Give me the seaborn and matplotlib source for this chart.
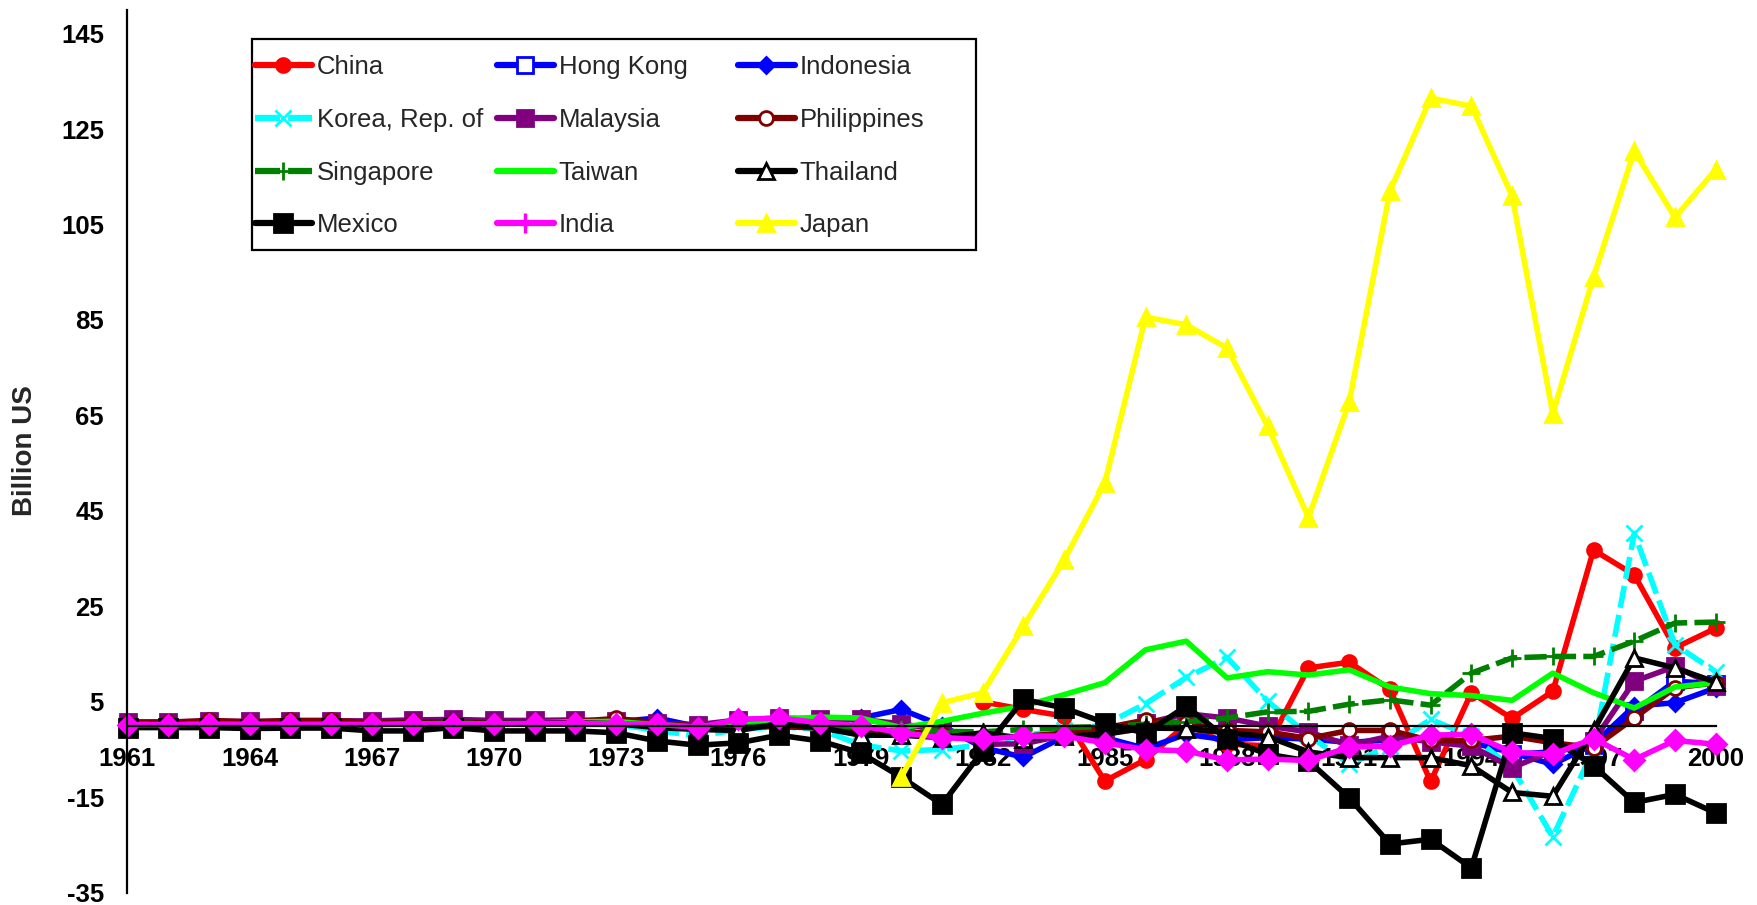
import numpy as np
import matplotlib
matplotlib.use("Agg")
import matplotlib.pyplot as plt
from matplotlib.lines import Line2D
from matplotlib.patches import Rectangle
import seaborn as sns

nan = np.nan
years = list(range(1961, 2001))
tick_years = [y if (y - 1961) % 3 == 0 else None for y in years]

china = [nan] * 21 + [5.0, 3.4, 2.0, -11.6, -7.1, 0.3, -3.9, -4.2, 12.1, 13.3,
                      7.6, -11.7, 6.9, 1.5, 7.2, 36.8, 31.6, 16.3, 20.4]
hong_kong = [nan] * 34 + [-6.0, -5.5, -4.0, 3.0, 9.3, 8.8]
indonesia = [-0.5, 0.1, 0.2, 0.2, 0.2, 0.3, 0.3, 0.4, 0.5, 0.5, 0.6, 0.7, 0.8, 1.6,
             -0.2, 0.3, 0.6, 0.8, 1.6, 3.4, 0.0, -4.6, -6.6, -2.3, -2.5, -4.8, -1.8,
             -3.0, -2.5, -2.8, -3.5, -3.0, -2.5, -3.5, -5.7, -8.1, -3.9, 4.1, 4.8, 7.9]
korea = [0.1, 0.1, 0.1, 0.1, 0.2, 0.2, 0.3, 0.3, 0.4, 0.4, 0.3, 0.4, 0.3, -1.0,
         -2.2, -0.8, -0.2, -0.8, -4.0, -5.3, -5.0, -4.0, -2.0, -1.0, 0.2, 4.6, 10.1,
         14.3, 5.1, -2.0, -8.0, -4.3, 1.3, -2.2, -8.8, -23.3, -5.0, 40.3, 17.0, 11.3]
malaysia = [0.8, 0.8, 0.9, 0.9, 0.9, 1.0, 1.0, 1.2, 1.3, 1.1, 1.1, 1.2, 0.9, 0.5,
            0.2, 1.2, 1.6, 1.4, 1.3, 0.4, -1.0, -3.9, -3.8, -2.0, -1.5, 0.5, 2.5,
            1.6, -0.1, -1.3, -4.1, -2.2, -3.4, -4.3, -8.8, -5.3, -3.2, 9.3, 12.4, 8.3]
philippines = [0.6, 0.7, 1.1, 0.8, 1.1, 1.1, 0.7, 0.8, 0.7, 0.6, 0.8, 0.9, 1.5, 0.6,
               -0.2, -0.3, -0.2, -0.5, -0.8, -1.2, -1.8, -2.5, -2.2, -1.6, -0.5, 1.2,
               0.5, -1.0, -1.3, -2.7, -1.0, -1.0, -3.1, -3.1, -2.2, -3.6, -4.6, 1.6,
               7.9, 9.0]
singapore = [0.3, 0.3, 0.3, 0.3, 0.3, 0.4, 0.4, 0.4, 0.5, 0.5, 0.6, 0.6, 0.8, 0.3,
             -0.3, 0.2, 0.4, 0.2, -0.3, -0.8, -1.2, -1.3, -0.8, -0.4, -0.2, 0.3, 0.8,
             1.6, 2.9, 3.0, 4.5, 5.4, 4.3, 11.0, 14.2, 14.5, 14.5, 17.7, 21.5, 21.7]
taiwan = [0.2, 0.2, 0.2, 0.2, 0.2, 0.2, 0.2, 0.3, 0.3, 0.4, 0.6, 0.8, 0.9, 0.1,
          -0.3, 0.8, 1.3, 1.8, 1.6, -0.4, 0.9, 2.6, 4.1, 6.5, 9.0, 15.9, 17.7, 10.0,
          11.3, 10.6, 11.7, 8.1, 6.7, 6.3, 5.3, 11.0, 6.9, 3.7, 8.1, 9.0]
thailand = [0.1, 0.2, 0.2, 0.3, 0.3, 0.3, 0.4, 0.5, 0.4, 0.5, 0.6, 0.6, 0.4, -0.4,
            -0.8, -1.0, 0.4, -0.4, -2.0, -2.0, -2.5, -1.5, -2.7, -2.2, -1.8, -0.5,
            -0.6, -1.5, -2.3, -5.5, -6.7, -6.7, -6.7, -8.4, -14.0, -14.8, -1.0, 14.2,
            12.1, 9.1]
mexico = [-0.4, -0.4, -0.4, -0.6, -0.5, -0.5, -1.1, -1.1, -0.4, -1.1, -1.1, -1.1,
          -1.5, -3.2, -4.1, -3.6, -2.0, -3.2, -5.7, -10.8, -16.5, -5.3, 5.5, 3.7, 0.6,
          -1.6, 4.1, -2.8, -6.0, -7.4, -15.1, -24.8, -23.8, -29.8, -1.5, -2.7, -8.4,
          -16.1, -14.4, -18.3]
india = [0.2, 0.2, 0.3, 0.3, 0.3, 0.3, 0.3, 0.4, 0.4, 0.4, 0.5, 0.5, 0.4, 0.3, -0.4,
         1.3, 1.6, 0.6, 0.0, -1.5, -2.5, -2.9, -2.2, -2.2, -3.6, -5.0, -5.3, -7.2,
         -7.0, -7.3, -4.5, -4.3, -2.0, -1.8, -5.6, -6.0, -2.7, -7.1, -3.1, -3.9]
japan = [nan] * 19 + [-10.8, 4.8, 6.9, 20.8, 34.7, 50.9, 85.6, 84.0, 79.1, 62.7,
                      43.6, 67.8, 112.0, 131.5, 129.8, 111.0, 65.4, 94.0, 120.4,
                      106.5, 116.5]

dash = (0, (4, 1.3))
# name, values, color, linestyle, marker, size, face, legend marker
series = [
    ("China", china, "#FF0000", "-", "o", 10, "#FF0000", "o"),
    ("Hong Kong", hong_kong, "#0000FF", "-", "s", 11, "white", "s"),
    ("Indonesia", indonesia, "#0000FF", "-", "D", 8, "#0000FF", "D"),
    ("Korea, Rep. of", korea, "#00FFFF", dash, "x", 12, "#00FFFF", "x"),
    ("Malaysia", malaysia, "#800080", "-", "s", 12, "#800080", "s"),
    ("Philippines", philippines, "#800000", "-", "o", 10, "white", "o"),
    ("Singapore", singapore, "#008000", dash, "+", 13, "#008000", "+"),
    ("Taiwan", taiwan, "#00FF00", "-", "None", 0, "#00FF00", "None"),
    ("Thailand", thailand, "black", "-", "^", 11, "white", "^"),
    ("Mexico", mexico, "black", "-", "s", 13, "black", "s"),
    ("India", india, "#FF00FF", "-", "D", 10, "#FF00FF", "|"),
    ("Japan", japan, "#FFFF00", "-", "^", 11, "#FFFF00", "^"),
]

sns.set_style("white")
plt.rcParams["font.family"] = ["Liberation Sans", "DejaVu Sans"]
plt.rcParams["axes.unicode_minus"] = False

W, H = 1758, 905
fig = plt.figure(figsize=(W / 100, H / 100), dpi=100)
ax = fig.add_axes([127.5 / W, 1 - 892.7 / H, (1715.7 - 127.5) / W, (892.7 - 9.75) / H])

handles = {}
for name, vals, color, ls, marker, ms, face, lmarker in series:
    sns.lineplot(x=years, y=vals, ax=ax, color=color, linestyle=ls, linewidth=4,
                 marker=marker, markersize=ms, markerfacecolor=face,
                 markeredgecolor=color, markeredgewidth=2, clip_on=False,
                 estimator=None, sort=False, legend=False)
    handles[name] = Line2D([], [], color=color, linestyle=ls, linewidth=4.5,
                           marker=lmarker, markersize=15 if lmarker == "|" else ms,
                           markerfacecolor=face, markeredgecolor=color,
                           markeredgewidth=2.5 if lmarker == "|" else 2)

ax.set_xlim(1961, 2000)
ax.set_ylim(-35, 150)
ax.set_yticks(range(-35, 146, 20))
ax.set_xticks(years)
ax.set_xticklabels([str(y) if y else "" for y in tick_years])

ax.spines["top"].set_visible(False)
ax.spines["right"].set_visible(False)
ax.spines["bottom"].set_position(("data", 0))
for s in ("left", "bottom"):
    ax.spines[s].set_linewidth(1.6)
    ax.spines[s].set_color("black")

ax.tick_params(axis="y", direction="inout", length=12, width=1.6, pad=11,
               labelsize=18.5, colors="black")
ax.tick_params(axis="x", direction="inout", length=11, width=1.6, pad=10,
               labelsize=18.5, colors="black")
for lab in ax.get_xticklabels() + ax.get_yticklabels():
    lab.set_fontweight("bold")

ax.set_xlabel("")
ax.set_ylabel("")
fig.text(25 / W, 1 - 451 / H, "Billion US", rotation=90, ha="center", va="center",
         fontsize=20, fontweight="bold")

# legend: white box with three columns placed where the reference has them
fig.add_artist(Rectangle((252 / W, 1 - 250 / H), (976 - 252) / W, (250 - 39) / H,
                         transform=fig.transFigure, facecolor="white",
                         edgecolor="black", linewidth=1.6, zorder=4))
columns = [["China", "Korea, Rep. of", "Singapore", "Mexico"],
           ["Hong Kong", "Malaysia", "Taiwan", "India"],
           ["Indonesia", "Philippines", "Thailand", "Japan"]]
col_x = [255, 497, 738]
for names, x0 in zip(columns, col_x):
    fig.legend([handles[n] for n in names], names, loc="upper left",
               bbox_to_anchor=(x0 / W, 1 - 55 / H), bbox_transform=fig.transFigure,
               fontsize=18.5, frameon=False, handlelength=2.2, handletextpad=0.2,
               labelspacing=1.12, borderpad=0, borderaxespad=0)

fig.savefig("out.png", dpi=100)
